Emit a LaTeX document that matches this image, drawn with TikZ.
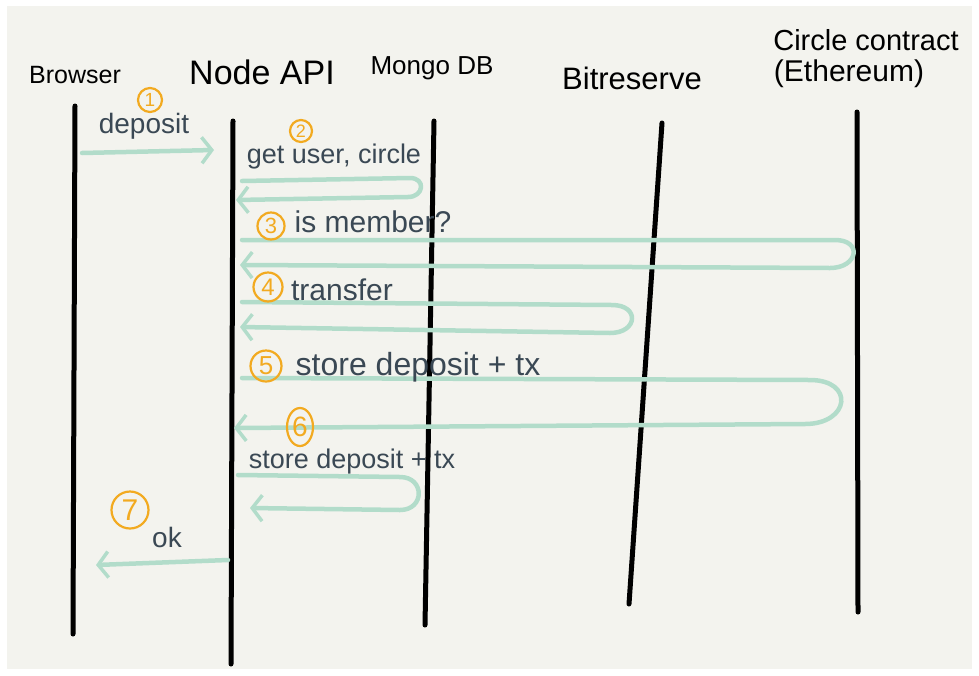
\documentclass[tikz,border=0pt]{standalone}
\usepackage{fontspec}
\setmainfont{Liberation Sans}
\usetikzlibrary{arrows.meta,shapes.geometric}
\definecolor{bg}{RGB}{243,243,238}
\definecolor{msggreen}{RGB}{178,220,202}
\definecolor{ink}{RGB}{58,72,84}
\definecolor{numorange}{RGB}{242,170,32}
\begin{document}
\begin{tikzpicture}[x=1pt,y=-1pt,
  life/.style={line width=5pt,black,line cap=round},
  msg/.style={line width=4.5pt,msggreen,line cap=round,line join=round,
    -{Straight Barb[length=10pt,width=26pt,line width=3.5pt]}},
  hdr/.style={black,inner sep=0pt},
  lbl/.style={ink,inner sep=0pt},
  num/.style={circle,draw=numorange,line width=2.2pt,text=numorange,inner sep=0pt}
]
\useasboundingbox (0,0) rectangle (979,675);
\fill[white] (0,0) rectangle (979,675);
\fill[bg] (7,6) rectangle (972,669);

% headers
\node[hdr,font=\fontsize{25}{28}\selectfont] (hbr) at (75,75) {Browser};
\node[hdr,font=\fontsize{34}{37}\selectfont] (hnode) at (262,72) {Node API};
\node[hdr,font=\fontsize{26}{29}\selectfont] (hmongo) at (432,68) {Mongo DB};
\node[hdr,font=\fontsize{31}{34}\selectfont] (hbit) at (632,78) {Bitreserve};
\node[hdr,font=\fontsize{29}{32}\selectfont] (hcirc) at (866,40) {Circle contract};
\node[hdr,font=\fontsize{30}{33}\selectfont] (heth) at (849,74) {(Ethereum)};

% lifelines
\coordinate (brT) at (75,106);   \coordinate (brB) at (73,634);
\coordinate (apT) at (233,121);  \coordinate (apB) at (231,664);
\coordinate (mgT) at (434,121);  \coordinate (mgB) at (425,625);
\coordinate (btT) at (662,123);  \coordinate (btB) at (629,604);
\coordinate (ccT) at (857,112);  \coordinate (ccB) at (858,612);
\draw[life] (brT) -- (brB);
\draw[life] (apT) -- (apB);
\draw[life] (mgT) -- (mgB);
\draw[life] (btT) -- (btB);
\draw[life] (ccT) -- (ccB);

% 1 deposit
\coordinate (m1s) at (82,153); \coordinate (m1e) at (214,150);
\draw[msg] (m1s) -- (m1e);
\node[lbl,font=\fontsize{28}{30}\selectfont] (l1) at (144,126) {deposit};
\node[num,minimum size=24pt,font=\fontsize{19}{19}\selectfont] (n1) at (150,100) {1};

% 2 get user, circle
\coordinate (m2s) at (242,181); \coordinate (m2r) at (410,178);
\coordinate (m2t) at (408,197); \coordinate (m2e) at (236,200);
\draw[msg] (m2s) -- (m2r) .. controls +(16,0) and +(16,0) .. (m2t) -- (m2e);
\node[lbl,font=\fontsize{27}{30}\selectfont] (l2) at (334,157) {get user, circle};
\node[num,minimum size=22pt,font=\fontsize{18}{18}\selectfont] (n2) at (301,131) {2};

% 3 is member?
\coordinate (m3s) at (242,240); \coordinate (m3r) at (835,240);
\coordinate (m3t) at (830,268); \coordinate (m3e) at (240,265);
\draw[msg] (m3s) -- (m3r) .. controls +(28,0) and +(28,0) .. (m3t) -- (m3e);
\node[lbl,font=\fontsize{30}{33}\selectfont] (l3) at (373,222) {is member?};
\node[num,minimum size=27pt,font=\fontsize{22}{22}\selectfont] (n3) at (271,226) {3};

% 4 transfer
\coordinate (m4s) at (242,302); \coordinate (m4r) at (612,305);
\coordinate (m4t) at (610,333); \coordinate (m4e) at (240,327);
\draw[msg] (m4s) -- (m4r) .. controls +(28,0) and +(28,0) .. (m4t) -- (m4e);
\node[lbl,font=\fontsize{30}{33}\selectfont] (l4) at (342,290) {transfer};
\node[num,minimum size=29pt,font=\fontsize{24}{24}\selectfont] (n4) at (268,287) {4};

% 5 store deposit + tx  /  6 return
\coordinate (m5s) at (242,378); \coordinate (m5r) at (810,380);
\coordinate (m5t) at (805,424); \coordinate (m5e) at (234,428);
\draw[msg] (m5s) -- (m5r) .. controls +(45,0) and +(45,0) .. (m5t) -- (m5e);
\node[lbl,font=\fontsize{32}{35}\selectfont] (l5) at (418,367) {store deposit + tx};
\node[num,minimum size=31pt,font=\fontsize{26}{26}\selectfont] (n5) at (266,366) {5};
\node[num,ellipse,minimum width=26pt,minimum height=38pt,font=\fontsize{28}{28}\selectfont] (n6) at (300,427) {6};

% store deposit + tx (Mongo)
\coordinate (m6s) at (238,475); \coordinate (m6r) at (400,477);
\coordinate (m6t) at (400,510); \coordinate (m6e) at (250,508);
\draw[msg] (m6s) -- (m6r) .. controls +(25,0) and +(25,0) .. (m6t) -- (m6e);
\node[lbl,font=\fontsize{27}{30}\selectfont] (l6) at (352,462) {store deposit + tx};

% 7 ok
\coordinate (m7s) at (228,560); \coordinate (m7e) at (96,565);
\draw[msg] (m7s) -- (m7e);
\node[lbl,font=\fontsize{28}{30}\selectfont] (l7) at (167,537) {ok};
\node[num,minimum size=37pt,font=\fontsize{30}{30}\selectfont] (n7) at (130,510) {7};
\end{tikzpicture}
\end{document}
